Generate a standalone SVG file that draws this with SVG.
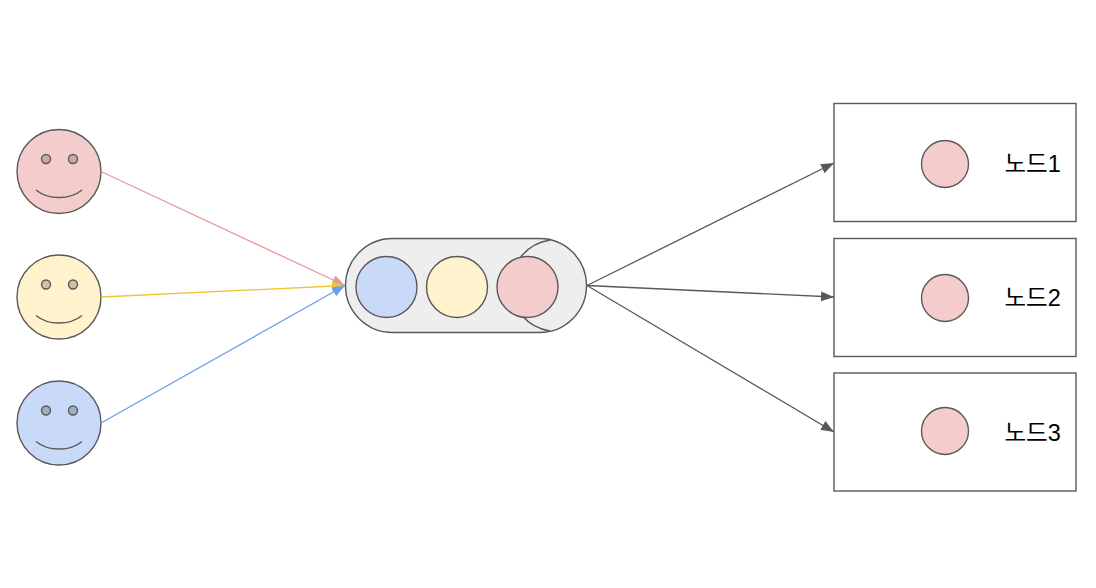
<svg xmlns="http://www.w3.org/2000/svg" width="1096" height="588" viewBox="0 0 1096 588">
<style>
.s{stroke:#595959;stroke-width:1.4}
.red{fill:#f4cccc}.yel{fill:#fff2cc}.blu{fill:#c9daf8}.gry{fill:#eeeeee}
.sm{fill:none;stroke:#595959;stroke-width:1.3}
.l{fill:none;stroke-width:1.3}
.t{font-family:"Liberation Sans","Noto Sans CJK KR",sans-serif;font-size:23.5px;fill:#000}
.box{fill:#fff;stroke:#595959;stroke-width:1.4}
</style>
<defs>
<marker id="mr" markerUnits="userSpaceOnUse" markerWidth="14" markerHeight="12" refX="13" refY="5" orient="auto"><path d="M0 0L13 5L0 10Z" fill="#ea9999"/></marker>
<marker id="my" markerUnits="userSpaceOnUse" markerWidth="14" markerHeight="12" refX="13" refY="5" orient="auto"><path d="M0 0L13 5L0 10Z" fill="#f1c232"/></marker>
<marker id="mb" markerUnits="userSpaceOnUse" markerWidth="14" markerHeight="12" refX="13" refY="5" orient="auto"><path d="M0 0L13 5L0 10Z" fill="#6d9eeb"/></marker>
<marker id="mg" markerUnits="userSpaceOnUse" markerWidth="14" markerHeight="12" refX="13" refY="5" orient="auto"><path d="M0 0L13 5L0 10Z" fill="#595959"/></marker>
</defs>
<rect width="1096" height="588" fill="#fff"/>
<g id="face1"><circle class="s red" cx="59" cy="171.500" r="42"/><circle class="s" cx="46" cy="159" r="4.500" fill="#c9aaaa"/><circle class="s" cx="73" cy="159" r="4.500" fill="#c9aaaa"/><path class="sm" d="M36 190C48 200 70 200 82 190"/></g>
<g id="face2"><circle class="s yel" cx="59" cy="297" r="42"/><circle class="s" cx="46" cy="284.500" r="4.500" fill="#ccc2a3"/><circle class="s" cx="73" cy="284.500" r="4.500" fill="#ccc2a3"/><path class="sm" d="M36 315.500C48 325.500 70 325.500 82 315.500"/></g>
<g id="face3"><circle class="s blu" cx="59" cy="423" r="42"/><circle class="s" cx="46" cy="410.500" r="4.500" fill="#a1aec6"/><circle class="s" cx="73" cy="410.500" r="4.500" fill="#a1aec6"/><path class="sm" d="M36 441.500C48 451.500 70 451.500 82 441.500"/></g>
<g id="queue">
<rect class="s gry" x="345.500" y="238.500" width="241" height="94" rx="47" ry="47"/>
<path class="s" fill="none" d="M550 240A46 46 0 0 0 550 331"/>
<circle class="s blu" cx="386.500" cy="287" r="30.500"/>
<circle class="s yel" cx="457" cy="287" r="30.500"/>
<circle class="s red" cx="527.500" cy="287" r="30.500"/>
</g>
<g id="node1"><rect class="box" x="834" y="103.500" width="242" height="118"/><circle class="s red" cx="945" cy="164" r="23.500"/><text class="t" x="1004.500" y="171.500">노드1</text></g>
<g id="node2"><rect class="box" x="834" y="238.500" width="242" height="118"/><circle class="s red" cx="945" cy="298" r="23.500"/><text class="t" x="1004.500" y="306">노드2</text></g>
<g id="node3"><rect class="box" x="834" y="373" width="242" height="118"/><circle class="s red" cx="945" cy="431" r="23.500"/><text class="t" x="1004.500" y="441">노드3</text></g>
<g id="connectors">
<line class="l" x1="101" y1="171.500" x2="345" y2="285.500" stroke="#ea9999" marker-end="url(#mr)"/>
<line class="l" x1="101" y1="297" x2="345" y2="285.500" stroke="#f1c232" marker-end="url(#my)"/>
<line class="l" x1="101" y1="423" x2="345" y2="285.500" stroke="#6d9eeb" marker-end="url(#mb)"/>
<line class="l" x1="587" y1="285.500" x2="834" y2="163" stroke="#595959" marker-end="url(#mg)"/>
<line class="l" x1="587" y1="285.500" x2="834" y2="297" stroke="#595959" marker-end="url(#mg)"/>
<line class="l" x1="587" y1="285.500" x2="834" y2="432" stroke="#595959" marker-end="url(#mg)"/>
</g>
</svg>
